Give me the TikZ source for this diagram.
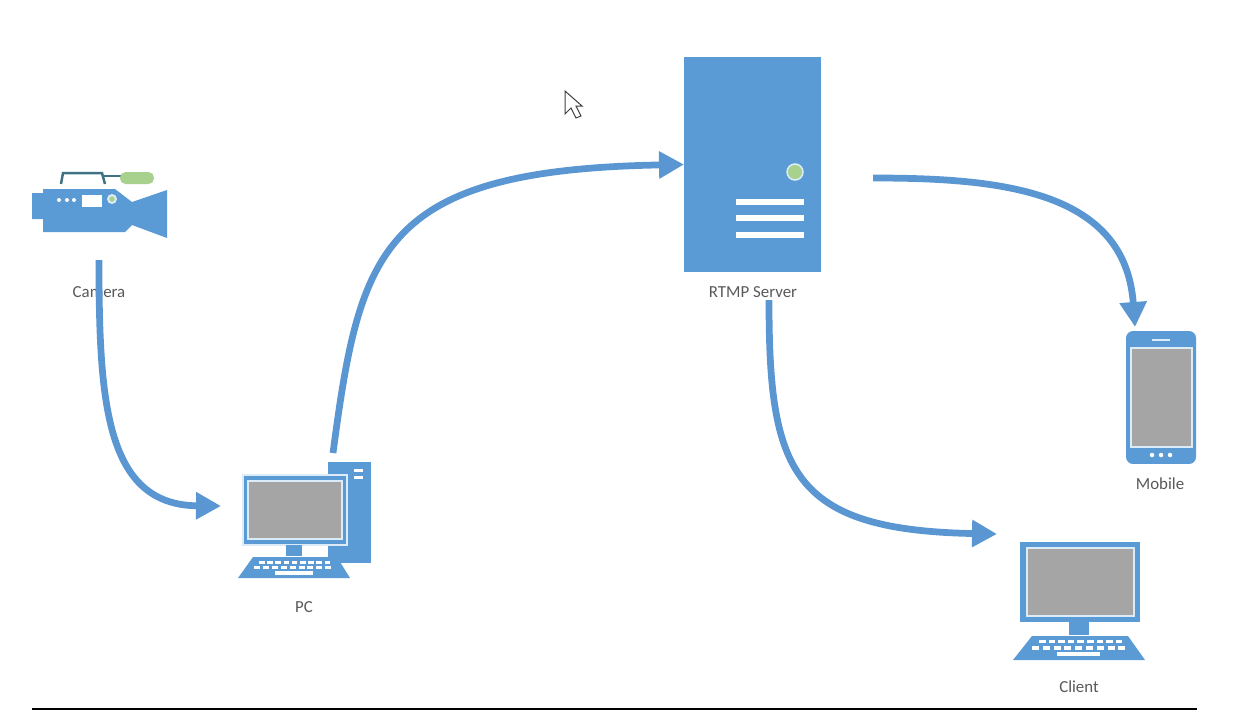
\documentclass[tikz,border=0pt]{standalone}
\usepackage{fontspec}
\setmainfont{Carlito}
\usetikzlibrary{arrows.meta}
\definecolor{iconblue}{HTML}{5B9BD5}
\definecolor{flowblue}{HTML}{5A96D2}
\definecolor{screengray}{HTML}{A5A5A5}
\definecolor{screenline}{HTML}{DCEBF8}
\definecolor{ledgreen}{HTML}{A9D18E}
\definecolor{handleteal}{HTML}{3F7383}
\definecolor{labelgray}{HTML}{595959}
\tikzset{
  flow/.style={line width=0.135cm,flowblue,-{Triangle[length=0.5cm,width=0.52cm]}},
  block/.style={fill=iconblue,inner sep=0pt,outer sep=0pt},
  screen/.style={fill=screengray,draw=screenline,line width=0.05cm,inner sep=0pt,outer sep=0pt},
  label/.style={text=labelgray,font=\fontsize{9.6pt}{11pt}\selectfont},
  whitebar/.style={fill=white,inner sep=0pt,outer sep=0pt}
}
\begin{document}
\begin{tikzpicture}[x=0.02cm,y=-0.02cm]
    \useasboundingbox (0,0) rectangle (1233,724);
    % 摄像机
    \draw[handleteal,line width=0.05cm] (61,184) -- (63,173) -- (102,173) -- (105,184);
    \draw[handleteal,line width=0.05cm] (103,176) -- (122,176);
    \node[fill=ledgreen,rounded corners=0.11cm,minimum width=0.68cm,minimum height=0.24cm,inner sep=0pt] (handle) at (137,178) {};
    \fill[iconblue] (32,193) -- (43,193) -- (43,189) -- (115,189) -- (132,202) -- (167,190) -- (167,238) -- (132,225) -- (125,232) -- (43,232) -- (43,219) -- (32,219) -- cycle;
    \foreach \x in {59,67,74}
    \fill[white] (\x,200) circle (0.04cm);
    \node[whitebar,minimum width=0.4cm,minimum height=0.24cm] (camlcd) at (92,201) {};
    \fill[screenline] (112,199) circle (0.1cm);
    \fill[ledgreen] (112,199) circle (0.055cm);
    \node[label] (camera) at (99,292) {Camera};
    % 电脑
    \node[block,minimum width=0.86cm,minimum height=2.02cm] (tower) at (349.5,512.5) {};
    \foreach \y in {470,477}
    \fill[white] (354,\y-1.5) rectangle (363,\y+1.5);
    \node[block,draw=screenline,line width=0.04cm,minimum width=2.08cm,minimum height=1.4cm] (pcframe) at (295,510) {};
    \node[screen,minimum width=1.88cm,minimum height=1.16cm] (pcscreen) at (295,510) {};
    \fill[iconblue] (286,545) rectangle (302,556);
    \fill[iconblue] (253,557) -- (337,557) -- (350,578) -- (238,578) -- cycle;
    \foreach \i in {0,...,8} {
        \fill[white] ({259+8.2*\i},560.5) rectangle ++(5.5,3);
        \fill[white] ({254+8.9*\i},566) rectangle ++(6,3);
      }
    \fill[white] (275,571) rectangle (313,574.5);
    \node[label] (pc) at (304,607) {PC};
    % 服务器
    \node[block,minimum width=2.74cm,minimum height=4.3cm] (server) at (752.5,164.5) {};
    \draw[fill=ledgreen,draw=screenline,line width=0.03cm] (795,172) circle (0.16cm);
    \foreach \y in {202,218,235}
    \fill[white] (736,\y-3) rectangle (804,\y+3);
    \node[label] (rtmp) at (753,292) {RTMP Server};
    % 手机
    \node[block,rounded corners=0.14cm,minimum width=1.4cm,minimum height=2.66cm] (mobile) at (1161,397.5) {};
    \node[screen,minimum width=1.22cm,minimum height=1.98cm] (mobilescreen) at (1161.5,397.5) {};
    \fill[screenline] (1152,339) rectangle (1170,341);
    \foreach \x in {1152,1161,1170}
    \fill[white] (\x,455) circle (0.045cm);
    \node[label] (mobilelabel) at (1160,484) {Mobile};
    % 客户端
    \node[block,minimum width=2.4cm,minimum height=1.6cm] (clientframe) at (1080,582) {};
    \node[screen,minimum width=2.14cm,minimum height=1.36cm] (clientscreen) at (1080.5,582) {};
    \fill[iconblue] (1069,622) rectangle (1089,635);
    \fill[iconblue] (1032,636) -- (1128,636) -- (1145,660) -- (1013,660) -- cycle;
    \foreach \i in {0,...,8} {
        \fill[white] ({1039+9.6*\i},639.5) rectangle ++(6.5,3.5);
        \fill[white] ({1032+10.8*\i},646) rectangle ++(7,3.5);
      }
    \fill[white] (1057,652) rectangle (1100,656);
    \node[label] (client) at (1079,687) {Client};
    % 连线
    \coordinate (camout) at (99,260);
    \coordinate (pcin) at (221,506);
    \coordinate (pcout) at (333,453);
    \coordinate (srvright) at (873,178);
    \coordinate (mobilein) at (1135,327);
    \coordinate (srvdown) at (769,300);
    \coordinate (clientin) at (997,534);
    \draw[flow] (camout) .. controls (99,400) and (105,505) .. (pcin);
    \draw[flow] (pcout) .. controls (360,250) and (380,170) .. (server.west);
    \draw[flow] (srvright) .. controls (1000,178) and (1125,190) .. (mobilein);
    \draw[flow] (srvdown) .. controls (769,470) and (790,530) .. (clientin);
    % 鼠标
    \draw[fill=white,draw=black!75,line width=0.02cm] (565,91) -- (565,114) -- (571,108) -- (576,118) -- (581,116) -- (576,106) -- (582,106) -- cycle;
    % 底线
    \draw[black,line width=0.03cm] (32,709) -- (1197,709);
  \end{tikzpicture}
\end{document}
